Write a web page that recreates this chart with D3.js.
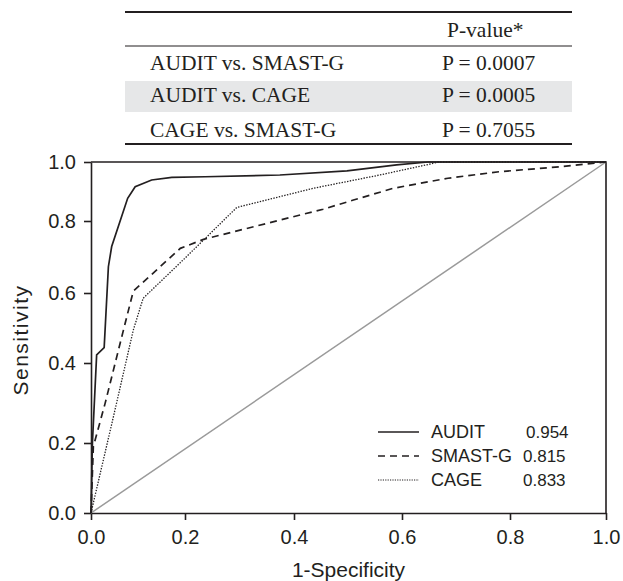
<!DOCTYPE html>
<html>
<head>
<meta charset="utf-8">
<script src="https://cdn.jsdelivr.net/npm/d3@7"></script>
<style>
  body { margin: 0; background: #fff; }
  svg { display: block; }
</style>
</head>
<body>
<main></main>
<script>
const width = 623;
const height = 581;

// table of pairwise comparisons
const comparisons = ['AUDIT vs. SMAST-G', 'AUDIT vs. CAGE', 'CAGE vs. SMAST-G'];
const pValues = ['P = 0.0007', 'P = 0.0005', 'P = 0.7055'];

// ROC curves (1-specificity, sensitivity)
const auditX = [0, 0.003, 0.012, 0.028, 0.037, 0.044, 0.078, 0.094, 0.129, 0.172, 0.237, 0.374, 0.498, 0.59, 0.648, 1];
const auditY = [0, 0.2, 0.423, 0.444, 0.673, 0.729, 0.877, 0.916, 0.939, 0.948, 0.95, 0.956, 0.97, 0.99, 1, 1];
const smastX = [0, 0.005, 0.03, 0.069, 0.09, 0.19, 0.234, 0.374, 0.454, 0.51, 0.584, 0.685, 0.78, 0.904, 1];
const smastY = [0, 0.19, 0.299, 0.494, 0.605, 0.724, 0.749, 0.803, 0.84, 0.871, 0.911, 0.945, 0.967, 0.984, 1];
const cageX = [0, 0.046, 0.09, 0.111, 0.189, 0.234, 0.295, 0.436, 0.559, 0.652, 0.667, 1];
const cageY = [0, 0.257, 0.494, 0.585, 0.683, 0.747, 0.846, 0.911, 0.956, 0.993, 1, 1];

const legendNames = ['AUDIT', 'SMAST-G', 'CAGE'];
const aucValues = ['0.954', '0.815', '0.833'];
const tickValues = [0, 0.2, 0.4, 0.6, 0.8, 1.0];

const ink = '#231f20';

const svg = d3.select('main')
              .append('svg')
              .attr('width', width)
              .attr('height', height);

// ---- table ----
const table = svg.append('g');
const tLeft = 125, tRight = 572;
const rowBase = [70, 102, 137];

table.append('rect')
     .attr('x', tLeft).attr('y', 81)
     .attr('width', tRight - tLeft).attr('height', 31)
     .attr('fill', '#e6e7e8');

[[12, 2], [46, 1.2], [144, 2]].forEach(([y, w]) => {
    table.append('line')
         .attr('x1', tLeft).attr('x2', tRight)
         .attr('y1', y).attr('y2', y)
         .attr('stroke', ink).attr('stroke-width', w);
});

table.append('text')
     .attr('x', 447).attr('y', 37)
     .attr('font-family', 'Liberation Serif, serif')
     .attr('font-size', 21.5)
     .attr('fill', ink)
     .text('P-value*');

table.selectAll('.cmp')
     .data(comparisons)
     .enter()
     .append('text')
     .attr('class', 'cmp')
     .attr('x', 150)
     .attr('y', (d, i) => rowBase[i])
     .attr('font-family', 'Liberation Serif, serif')
     .attr('font-size', 21.5)
     .attr('fill', ink)
     .text(d => d);

table.selectAll('.pv')
     .data(pValues)
     .enter()
     .append('text')
     .attr('class', 'pv')
     .attr('x', 442)
     .attr('y', (d, i) => rowBase[i])
     .attr('font-family', 'Liberation Serif, serif')
     .attr('font-size', 21.5)
     .attr('fill', ink)
     .text(d => d);

// ---- plot ----
const xScale = d3.scaleLinear().domain(tickValues).range([91, 185, 294, 402, 510, 606]);
const yScale = d3.scaleLinear().domain(tickValues).range([513, 443, 363, 293, 221, 162]);

const fmt = d3.format('.1f');

const xAxis = svg.append('g')
   .attr('transform', 'translate(0,' + yScale(0) + ')')
   .call(d3.axisBottom(xScale).tickValues(tickValues).tickFormat(fmt).tickSize(7).tickSizeOuter(0).tickPadding(10));

const yAxis = svg.append('g')
   .attr('transform', 'translate(' + xScale(0) + ',0)')
   .call(d3.axisLeft(yScale).tickValues(tickValues).tickFormat(fmt).tickSize(7).tickSizeOuter(0).tickPadding(8));

[xAxis, yAxis].forEach(ax => {
    ax.select('.domain').attr('stroke', ink).attr('stroke-width', 1.6);
    ax.selectAll('.tick line').attr('stroke', ink).attr('stroke-width', 1.6);
    ax.selectAll('.tick text')
      .attr('font-family', 'Liberation Sans, Arial, sans-serif')
      .attr('font-size', 20)
      .attr('fill', ink);
});

// top and right frame
svg.append('path')
   .attr('d', `M${xScale(0)},${yScale(1)}H${xScale(1)}V${yScale(0)}`)
   .attr('fill', 'none')
   .attr('stroke', ink)
   .attr('stroke-width', 1.6);

// reference diagonal
svg.append('line')
   .attr('x1', xScale(0)).attr('y1', yScale(0))
   .attr('x2', xScale(1)).attr('y2', yScale(1))
   .attr('stroke', '#9a9a9a')
   .attr('stroke-width', 1.5);

const line = d3.line()
               .x(d => xScale(d[0]))
               .y(d => yScale(d[1]));

const series = [
    { x: cageX, y: cageY, dash: '1.4,1.4', w: 1.3 },
    { x: smastX, y: smastY, dash: '7,5', w: 1.7 },
    { x: auditX, y: auditY, dash: null, w: 1.7 }
];

series.forEach(s => {
    svg.append('path')
       .datum(d3.zip(s.x, s.y))
       .attr('d', line)
       .attr('fill', 'none')
       .attr('stroke', ink)
       .attr('stroke-width', s.w)
       .attr('stroke-dasharray', s.dash);
});

// ---- legend ----
const legendStyles = [
    { dash: null, w: 1.6 },
    { dash: '7,5', w: 1.6 },
    { dash: '1.2,1.2', w: 1.2 }
];
const legendRows = [432, 456, 480];

const legend = svg.append('g');
legendNames.forEach((name, i) => {
    legend.append('line')
          .attr('x1', 378).attr('x2', 419)
          .attr('y1', legendRows[i]).attr('y2', legendRows[i])
          .attr('stroke', ink)
          .attr('stroke-width', legendStyles[i].w)
          .attr('stroke-dasharray', legendStyles[i].dash);
    legend.append('text')
          .attr('x', 431).attr('y', legendRows[i])
          .attr('dy', '0.36em')
          .attr('font-family', 'Liberation Sans, Arial, sans-serif')
          .attr('font-size', 18)
          .attr('fill', ink)
          .text(name);
    legend.append('text')
          .attr('x', i === 0 ? 526 : 523).attr('y', legendRows[i])
          .attr('dy', '0.36em')
          .attr('font-family', 'Liberation Sans, Arial, sans-serif')
          .attr('font-size', 17)
          .attr('fill', ink)
          .text(aucValues[i]);
});

// axis titles
svg.append('text')
   .attr('x', (xScale(0) + xScale(1)) / 2)
   .attr('y', 577)
   .attr('text-anchor', 'middle')
   .attr('font-family', 'Liberation Sans, Arial, sans-serif')
   .attr('font-size', 21)
   .attr('fill', ink)
   .text('1-Specificity');

svg.append('text')
   .attr('transform', 'translate(28,' + 340 + ') rotate(-90)')
   .attr('text-anchor', 'middle')
   .attr('font-family', 'Liberation Sans, Arial, sans-serif')
   .attr('font-size', 21)
   .attr('letter-spacing', 1.5)
   .attr('fill', ink)
   .text('Sensitivity');
</script>
</body>
</html>
